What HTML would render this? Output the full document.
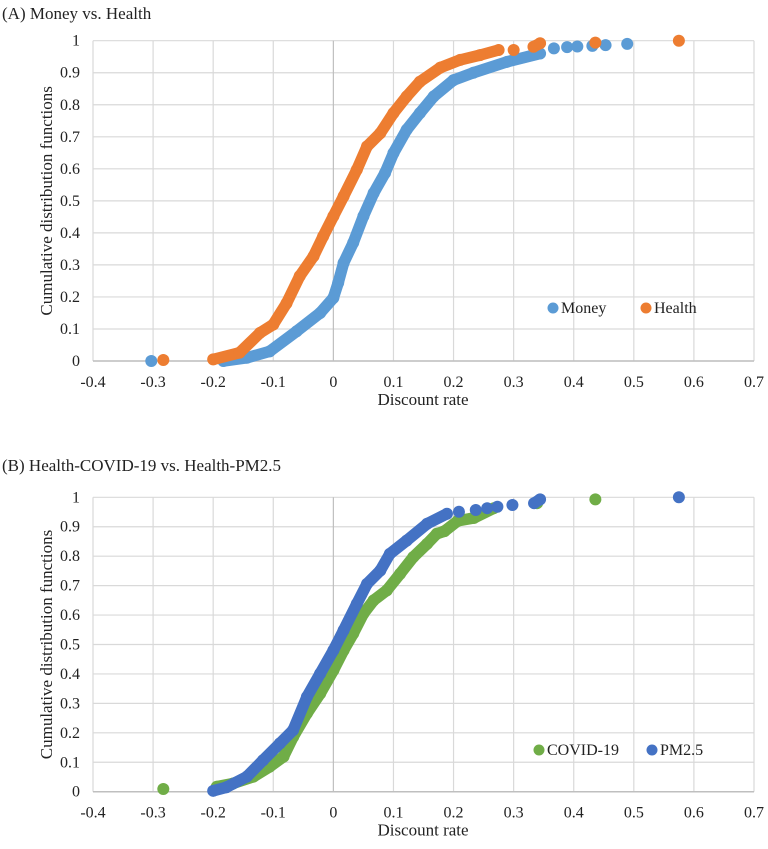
<!DOCTYPE html>
<html><head><meta charset="utf-8"><style>
body{margin:0;background:#fff}
svg text{font-family:"Liberation Serif",serif;fill:#222}
</style></head><body>
<svg id="svg" width="768" height="844" viewBox="0 0 768 844"></svg>
<script>
// Panel A data
const moneyX=[-0.303,-0.183,-0.144,-0.106,-0.061,-0.022,0,0.008,0.017,0.033,0.05,0.067,0.086,0.1,0.122,0.144,0.167,0.2,0.233,0.289,0.344,0.367,0.389,0.406,0.431,0.453,0.489];
const moneyY=[0,0,0.01,0.03,0.093,0.15,0.197,0.244,0.306,0.369,0.452,0.524,0.587,0.649,0.722,0.774,0.826,0.877,0.9,0.934,0.96,0.976,0.98,0.982,0.984,0.986,0.99];
const healthX=[-0.283,-0.2,-0.156,-0.122,-0.1,-0.078,-0.056,-0.033,-0.017,0,0.017,0.039,0.056,0.078,0.1,0.122,0.144,0.178,0.211,0.244,0.275,0.3,0.333,0.344,0.436,0.575];
const healthY=[0.003,0.005,0.026,0.088,0.114,0.18,0.265,0.327,0.389,0.452,0.514,0.597,0.67,0.711,0.774,0.826,0.872,0.916,0.94,0.955,0.971,0.971,0.981,0.992,0.994,1.0];
// Panel B data
const covidX=[-0.283,-0.194,-0.167,-0.133,-0.106,-0.083,-0.067,-0.044,-0.022,0,0.017,0.033,0.05,0.067,0.089,0.111,0.133,0.156,0.172,0.185,0.207,0.234,0.267,0.339,0.436];
const covidY=[0.009,0.017,0.028,0.051,0.085,0.119,0.186,0.266,0.333,0.412,0.48,0.537,0.605,0.65,0.684,0.74,0.797,0.842,0.876,0.885,0.92,0.93,0.963,0.98,0.993];
const pmX=[-0.2,-0.178,-0.144,-0.117,-0.089,-0.067,-0.044,-0.022,0,0.017,0.039,0.056,0.078,0.094,0.122,0.156,0.189,0.209,0.237,0.256,0.273,0.298,0.334,0.344,0.575];
const pmY=[0.003,0.015,0.051,0.107,0.164,0.209,0.322,0.401,0.48,0.548,0.638,0.706,0.751,0.808,0.853,0.91,0.944,0.951,0.957,0.963,0.968,0.974,0.98,0.993,1.0];
const xTicks=[-0.4,-0.3,-0.2,-0.1,0,0.1,0.2,0.3,0.4,0.5,0.6,0.7];
const xTickLabels=["-0.4","-0.3","-0.2","-0.1","0","0.1","0.2","0.3","0.4","0.5","0.6","0.7"];
const yTicks=[0,0.1,0.2,0.3,0.4,0.5,0.6,0.7,0.8,0.9,1];
const yTickLabels=["0","0.1","0.2","0.3","0.4","0.5","0.6","0.7","0.8","0.9","1"];

const NS="http://www.w3.org/2000/svg";
const svg=document.getElementById('svg');
function mk(tag,attrs,parent){const e=document.createElementNS(NS,tag);for(const k in attrs)e.setAttribute(k,attrs[k]);(parent||svg).appendChild(e);return e;}
const X0=93,X1=754;
function xs(v){return X0+(v+0.4)/1.1*(X1-X0);}

function panel(p){
  const g=mk('g',{});
  
  
  const ys=v=>p.bot-v*(p.bot-p.top);
  const t=mk('text',{x:2,y:p.titleY,'font-size':17},g);t.textContent=p.title;
  
  
  yTicks.forEach((v,i)=>{
    const l=mk('line',{x1:X0,x2:X1,y1:ys(v),y2:ys(v),stroke:'#d9d9d9','stroke-width':1.2},g);
    
    
    const tx=mk('text',{x:80,y:ys(v)+5,'text-anchor':'end','font-size':16},g);tx.textContent=yTickLabels[i];
    
    
  });
  xTicks.forEach((v,i)=>{
    const l=mk('line',{x1:xs(v),x2:xs(v),y1:p.top,y2:p.bot,stroke:v===0?'#bfbfbf':'#d9d9d9','stroke-width':1.2},g);
    
    
    const tx=mk('text',{x:xs(v),y:p.bot+26,'text-anchor':'middle','font-size':16},g);tx.textContent=xTickLabels[i];
    
    
  });
  const ax=mk('line',{x1:X0,x2:X1,y1:p.bot,y2:p.bot,stroke:'#bfbfbf','stroke-width':1.5},g);
  
  
  const xt=mk('text',{x:423,y:p.bot+44,'text-anchor':'middle','font-size':17},g);xt.textContent='Discount rate';
  
  
  const cy=(p.top+p.bot)/2;
  const yt=mk('text',{x:52,y:cy,'text-anchor':'middle','font-size':17,transform:`rotate(-90 52 ${cy})`},g);yt.textContent='Cumulative distribution functions';
  
  
  p.series.forEach(s=>{
    const sg=mk('g',{},g);
    
    
    for(let i=1;i<s.x.length;i++){
      const ax1=xs(s.x[i-1]),ay1=ys(s.y[i-1]),ax2=xs(s.x[i]),ay2=ys(s.y[i]);
      const dx=Math.abs(ax2-ax1);
      if(dx<40&&(s.x[i]<=s.cut||dx<9)){
        const ln=mk('line',{x1:ax1,y1:ay1,x2:ax2,y2:ay2,stroke:s.color,'stroke-width':11.5,'stroke-linecap':'round'},sg);
        
        
      }
    }
    s.x.forEach((v,i)=>{
      const c=mk('circle',{cx:xs(v),cy:ys(s.y[i]),r:6,fill:s.color},sg);
      
      
    });
    const lc=mk('circle',{cx:s.lx,cy:p.legY,r:5.5,fill:s.color},g);
    
    
    const lt=mk('text',{x:s.lx+8,y:p.legY+5,'font-size':16},g);lt.textContent=s.label;
    
    
  });
}
panel({name:'panel-a',title:'(A) Money vs. Health',titleY:19,top:40.7,bot:361,legY:308,
  series:[{key:'money',label:'Money',x:moneyX,y:moneyY,color:'#5B9BD5',lx:553,cut:0.35},
          {key:'health',label:'Health',x:healthX,y:healthY,color:'#ED7D31',lx:646,cut:0.28}]});
panel({name:'panel-b',title:'(B) Health-COVID-19 vs. Health-PM2.5',titleY:471,top:497.3,bot:791.7,legY:750,
  series:[{key:'covid',label:'COVID-19',x:covidX,y:covidY,color:'#70AD47',lx:539,cut:0.28},
          {key:'pm25',label:'PM2.5',x:pmX,y:pmY,color:'#4472C4',lx:652,cut:0.2}]});
</script>
</body></html>
